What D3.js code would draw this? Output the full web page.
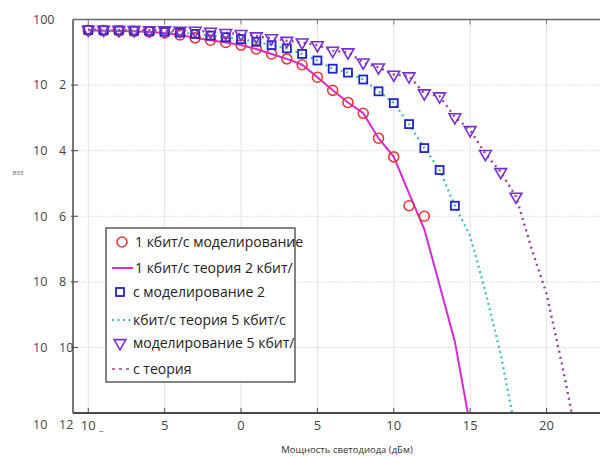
<!DOCTYPE html>
<html><head><meta charset="utf-8">
<script src="https://cdn.jsdelivr.net/npm/d3@7"></script>
<style>body{margin:0;background:#fff}svg{display:block;font-family:"Open Sans",sans-serif}</style>
</head><body><svg id="c" width="600" height="458"></svg>
<script>
// ---- data (BER vs LED power, dBm) ----
const simX1 = [-10,-9,-8,-7,-6,-5,-4,-3,-2,-1,0,1,2,3,4,5,6,7,8,9,10,11,12];
const sim1  = [0.468,0.457,0.447,0.437,0.417,0.389,0.339,0.275,0.234,0.200,0.166,0.126,0.0891,0.0631,0.0417,0.0174,0.00692,0.00295,0.00138,2.40e-4,6.46e-5,2.09e-6,1.0e-6];
const theoX1 = [-10,-9,-8,-7,-6,-5,-4,-3,-2,-1,0,1,2,3,4,5,6,7,8,9,10,11,12,13,14,15];
const theo1  = [0.468,0.457,0.447,0.437,0.417,0.389,0.339,0.275,0.234,0.200,0.166,0.126,0.0891,0.0631,0.0417,0.0174,0.00692,0.00295,0.00138,2.40e-4,6.46e-5,5.0e-6,4.0e-7,7.9e-9,1.5e-10,4.0e-13];

const simX2 = [-10,-9,-8,-7,-6,-5,-4,-3,-2,-1,0,1,2,3,4,5,6,7,8,9,10,11,12,13,14];
const sim2  = [0.479,0.468,0.468,0.457,0.447,0.427,0.398,0.363,0.324,0.288,0.251,0.209,0.166,0.132,0.0891,0.0562,0.0316,0.0240,0.0148,0.00646,0.00282,6.46e-4,1.20e-4,2.57e-5,2.09e-6];
const theoX2 = [-10,-9,-8,-7,-6,-5,-4,-3,-2,-1,0,1,2,3,4,5,6,7,8,9,10,11,12,13,14,15,16,17,18];
const theo2  = [0.479,0.468,0.468,0.457,0.447,0.427,0.398,0.363,0.324,0.288,0.251,0.209,0.166,0.132,0.0891,0.0562,0.0316,0.0240,0.0148,0.00646,0.00282,6.46e-4,1.20e-4,2.57e-5,2.09e-6,2.5e-7,5.0e-9,6.3e-11,2.5e-13];

const simX3 = [-10,-9,-8,-7,-6,-5,-4,-3,-2,-1,0,1,2,3,4,5,6,7,8,9,10,11,12,13,14,15,16,17,18];
const sim3  = [0.490,0.490,0.479,0.479,0.468,0.468,0.457,0.457,0.427,0.389,0.363,0.309,0.269,0.224,0.200,0.166,0.112,0.100,0.0490,0.0347,0.0209,0.0186,0.00562,0.00457,0.00105,4.27e-4,7.94e-5,2.24e-5,3.98e-6];
const theoX3 = [-10,-9,-8,-7,-6,-5,-4,-3,-2,-1,0,1,2,3,4,5,6,7,8,9,10,11,12,13,14,15,16,17,18,19,20,21,22];
const theo3  = [0.490,0.490,0.479,0.479,0.468,0.468,0.457,0.457,0.427,0.389,0.363,0.309,0.269,0.224,0.200,0.166,0.112,0.100,0.0490,0.0347,0.0209,0.0186,0.00562,0.00457,0.00105,4.27e-4,7.94e-5,2.24e-5,3.98e-6,1.1e-7,4.3e-9,3.2e-11,1.6e-13];

const xTicks = [-10,-5,0,5,10,15,20];
const xTickLabels = ["10","5","0","5","10","15","20"];
const yTicks = [1,1e-2,1e-4,1e-6,1e-8,1e-10,1e-12];
const yTickBase = ["100","10","10","10","10","10","10"];
const yTickExp = ["","2","4","6","8","10","12"];
const legendLabels = ["1 кбит/с моделирование","1 кбит/с теория 2 кбит/","с моделирование 2","кбит/с теория 5 кбит/с","моделирование 5 кбит/","с теория"];
const xTitle = "Мощность светодиода (дБм)";
const yTitle = "взз";

// ---- layout ----
const L=73, T=19.5, R=600, B=413;
const x = d3.scaleLinear().domain([-11,23.5]).range([L,R]);
const y = d3.scaleLog().domain([1e-12,1]).range([B,T]);
const svg = d3.select("#c");

svg.append("defs").append("clipPath").attr("id","clip")
  .append("rect").attr("x",L).attr("y",T).attr("width",R-L).attr("height",B-T);

// grid
const g = svg.append("g");
g.selectAll(".gx").data(xTicks).join("line")
  .attr("x1",d=>x(d)).attr("x2",d=>x(d)).attr("y1",T).attr("y2",B)
  .attr("stroke","#e4e4e4").attr("stroke-width",1);
g.selectAll(".gy").data(yTicks.slice(1,-1)).join("line")
  .attr("x1",L).attr("x2",R).attr("y1",d=>y(d)).attr("y2",d=>y(d))
  .attr("stroke","#d8d8d8").attr("stroke-width",1).attr("stroke-dasharray","1.5,1.5");

// lines
const plot = svg.append("g").attr("clip-path","url(#clip)");
const line = d3.line().x(d=>x(d[0])).y(d=>y(d[1]));
const zip=(a,b)=>a.map((v,i)=>[v,b[i]]);
plot.append("path").datum(zip(theoX1,theo1)).attr("d",line).attr("fill","none")
  .attr("stroke","#d62ad6").attr("stroke-width",2);
plot.append("path").datum(zip(theoX2,theo2)).attr("d",line).attr("fill","none")
  .attr("stroke","#3cbcbc").attr("stroke-width",2.2).attr("stroke-dasharray","2,3.5");
plot.append("path").datum(zip(theoX3,theo3)).attr("d",line).attr("fill","none")
  .attr("stroke","#96449a").attr("stroke-width",2.4).attr("stroke-dasharray","2,4");

// markers
const cCol="#e03a3a", sCol="#2424c0", tCol="#7a2fd2";
plot.selectAll(".c").data(zip(simX1,sim1)).join("circle")
  .attr("cx",d=>x(d[0])).attr("cy",d=>y(d[1])).attr("r",5)
  .attr("fill","none").attr("stroke",cCol).attr("stroke-width",1.6);
plot.selectAll(".s").data(zip(simX2,sim2)).join("rect")
  .attr("x",d=>x(d[0])-4).attr("y",d=>y(d[1])-4).attr("width",8).attr("height",8)
  .attr("fill","none").attr("stroke",sCol).attr("stroke-width",1.8);
const tri = d3.symbol().type(d3.symbolTriangle).size(60);
plot.selectAll(".t").data(zip(simX3,sim3)).join("path")
  .attr("d",tri).attr("transform",d=>`translate(${x(d[0])},${y(d[1])}) rotate(180)`)
  .attr("fill","none").attr("stroke",tCol).attr("stroke-width",1.6);

// frame & ticks
const ax = svg.append("g").attr("stroke","#4a4a4a").attr("fill","none");
ax.append("line").attr("x1",L).attr("x2",R).attr("y1",T).attr("y2",T).attr("stroke-width",1.5).attr("stroke","#6a6a6a");
ax.append("line").attr("x1",L).attr("x2",L).attr("y1",T).attr("y2",B).attr("stroke-width",1.5);
ax.append("line").attr("x1",L).attr("x2",R).attr("y1",B).attr("y2",B).attr("stroke-width",1.8);
ax.selectAll(".tt").data(xTicks).join("line").attr("x1",d=>x(d)).attr("x2",d=>x(d)).attr("y1",T).attr("y2",T+5).attr("stroke","#777");
ax.selectAll(".tb").data(xTicks).join("line").attr("x1",d=>x(d)).attr("x2",d=>x(d)).attr("y1",B).attr("y2",B-5);
ax.selectAll(".ty").data(yTicks.slice(1,-1)).join("line").attr("x1",L-2).attr("x2",L+5).attr("y1",d=>y(d)).attr("y2",d=>y(d));

// tick labels
const lab = svg.append("g").attr("fill","#444").attr("font-size",12.5);
yTicks.forEach((t,i)=>{
  const yy = y(t) + (i===yTicks.length-1 ? 12 : 0);
  lab.append("text").attr("x",33).attr("y",yy).attr("dy","0.35em").text(yTickBase[i]);
  if(yTickExp[i]) lab.append("text").attr("x",59).attr("y",yy).attr("dy","0.35em").text(yTickExp[i]);
});
xTicks.forEach((t,i)=>{
  lab.append("text").attr("x",x(t)).attr("y",425).attr("dy","0.35em")
    .attr("text-anchor","middle").attr("font-size",13).text(xTickLabels[i]);
  if(i===0) lab.append("text").attr("x",x(t)+11).attr("y",430).attr("font-size",9).text("_");
});
svg.append("text").attr("x",347).attr("y",450).attr("dy","0.35em").attr("text-anchor","middle")
  .attr("font-size",9.5).attr("fill","#333").text(xTitle);
svg.append("text").attr("x",18).attr("y",173).attr("dy","0.35em").attr("text-anchor","middle")
  .attr("font-size",7).attr("fill","#777").text(yTitle);

// legend
const lg = svg.append("g");
lg.append("rect").attr("x",106).attr("y",228).attr("width",189).attr("height",154)
  .attr("fill","#fff").attr("stroke","#333").attr("stroke-width",1.2);
const rowsY=[242,268,292,320,343,369];
lg.append("circle").attr("cx",122).attr("cy",rowsY[0]).attr("r",5).attr("fill","none").attr("stroke",cCol).attr("stroke-width",1.6);
lg.append("line").attr("x1",112).attr("x2",133).attr("y1",rowsY[1]).attr("y2",rowsY[1]).attr("stroke","#d62ad6").attr("stroke-width",2);
lg.append("rect").attr("x",116).attr("y",rowsY[2]-4).attr("width",8).attr("height",8).attr("fill","none").attr("stroke",sCol).attr("stroke-width",1.8);
lg.append("line").attr("x1",112).attr("x2",133).attr("y1",rowsY[3]).attr("y2",rowsY[3]).attr("stroke","#3cbcbc").attr("stroke-width",2).attr("stroke-dasharray","2,3.5");
lg.append("path").attr("d",tri).attr("transform",`translate(120,${rowsY[4]}) rotate(180)`).attr("fill","none").attr("stroke",tCol).attr("stroke-width",1.6);
lg.append("line").attr("x1",112).attr("x2",131).attr("y1",rowsY[5]).attr("y2",rowsY[5]).attr("stroke","#b070b0").attr("stroke-width",2).attr("stroke-dasharray","3,4");
const tx0=[135,135,133,133,133,133];
legendLabels.forEach((s,i)=>{
  lg.append("text").attr("x",tx0[i]).attr("y",rowsY[i]).attr("dy","0.35em")
    .attr("font-size",14).attr("fill","#222").text(s);
});
</script></body></html>
